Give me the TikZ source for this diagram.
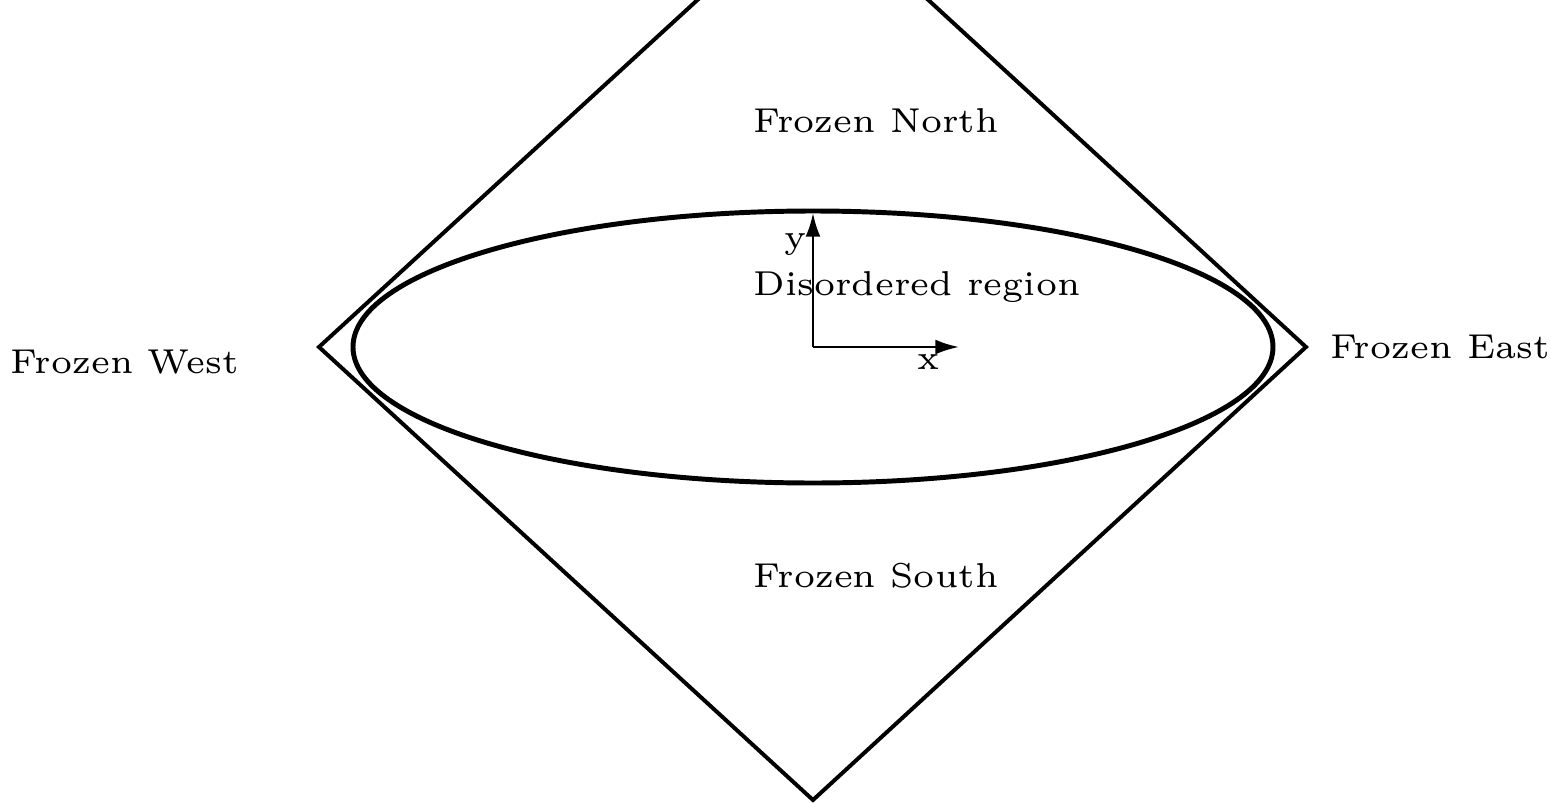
\documentclass[tikz,border=0pt]{standalone}
\usetikzlibrary{arrows.meta}
\begin{document}
\begin{tikzpicture}[x=0.181818pt,y=-0.181818pt,
  lbl/.style={inner sep=0pt,anchor=base,font=\fontsize{6.28}{7}\selectfont},
  border/.style={line width=0.72pt,line join=miter},
  oval/.style={line width=0.9pt},
  axis/.style={line width=0.45pt,-{Latex[length=4.3pt,width=2.7pt]}}]
\useasboundingbox (0,0) rectangle (1551,803);
\clip (0,0) rectangle (1551,803);
\coordinate (W) at (319,347);
\coordinate (E) at (1306,347);
\coordinate (S) at (813,800);
\coordinate (N) at (813,-106);
\coordinate (O) at (813,347);
\coordinate (Y) at (813,213);
\coordinate (X) at (959,347);
\draw[border] (N) -- (E) -- (S) -- (W) -- cycle;
\draw[oval] (O) ellipse [x radius=460, y radius=-136];
\draw[axis] (O) -- (Y);
\draw[axis] (O) -- (X);
\node[lbl] (yl) at (796,248) {y};
\node[lbl] (xl) at (929,369) {x};
\node[lbl] (north) at (876,132) {Frozen North};
\node[lbl] (dis) at (917,295) {Disordered region};
\node[lbl] (south) at (876,587) {Frozen South};
\node[lbl] (west) at (125,373) {Frozen West};
\node[lbl] (east) at (1440,358) {Frozen East};
\end{tikzpicture}
\end{document}
